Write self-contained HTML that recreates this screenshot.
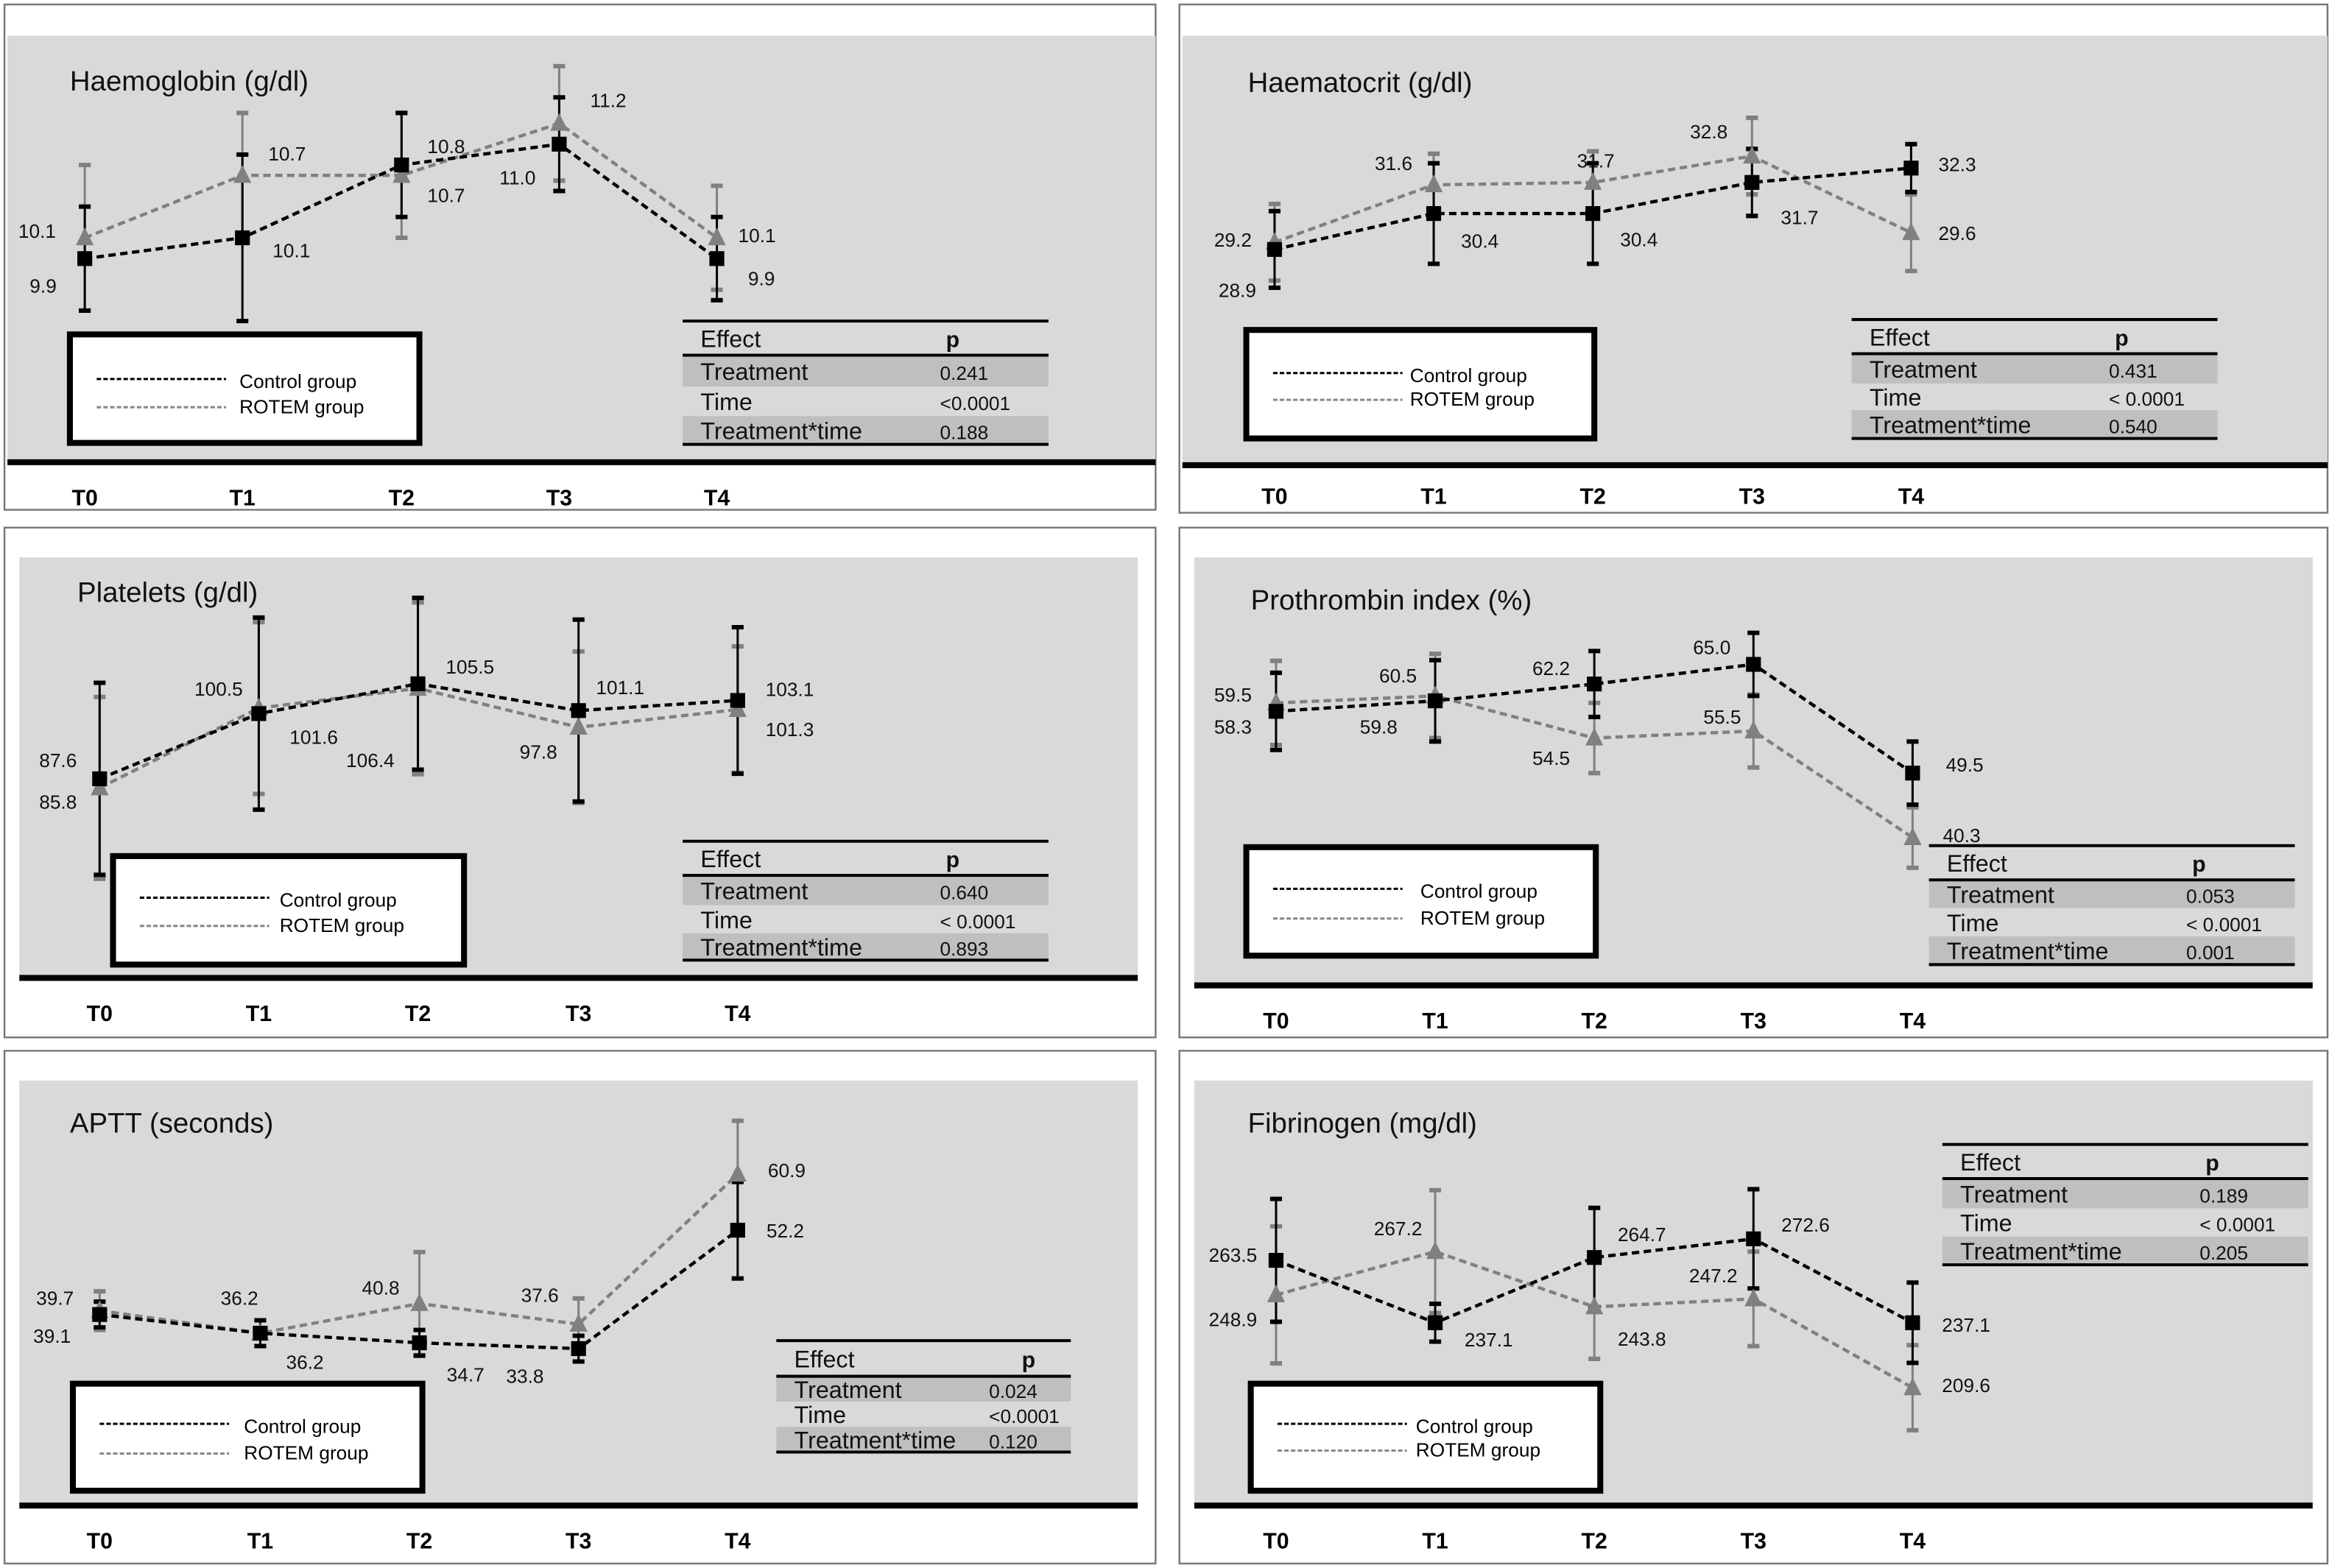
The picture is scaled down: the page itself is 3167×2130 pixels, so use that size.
<!DOCTYPE html>
<html><head><meta charset="utf-8">
<style>
html,body{margin:0;padding:0;background:#fff;}
svg{display:block;font-family:"Liberation Sans",Arial,sans-serif;}
</style></head>
<body>
<svg id="fig" xmlns="http://www.w3.org/2000/svg" width="3167" height="2130" viewBox="0 0 1568 1055" preserveAspectRatio="none"></svg>
<script>
const categories = ['T0','T1','T2','T3','T4'];

const hbControl = [9.9, 10.1, 10.8, 11.0, 9.9];
const hbRotem = [10.1, 10.7, 10.7, 11.2, 10.1];
const hbControlErr = [0.5, 0.8, 0.5, 0.45, 0.4];
const hbRotemErr = [0.7, 0.6, 0.6, 0.55, 0.5];
const hbP = ['0.241','<0.0001','0.188'];

const hctControl = [28.9, 30.4, 30.4, 31.7, 32.3];
const hctRotem = [29.2, 31.6, 31.7, 32.8, 29.6];
const hctControlErr = [1.6, 2.1, 2.1, 1.4, 1.0];
const hctRotemErr = [1.6, 1.3, 1.3, 1.6, 1.6];
const hctP = ['0.431','< 0.0001','0.540'];

const pltControl = [87.6, 100.5, 106.4, 101.1, 103.1];
const pltRotem = [85.8, 101.6, 105.5, 97.8, 101.3];
const pltControlErr = [19, 19, 17, 18, 14.5];
const pltRotemErr = [18, 17, 17, 15, 12.5];
const pltP = ['0.640','< 0.0001','0.893'];

const ptControl = [58.3, 59.8, 62.2, 65.0, 49.5];
const ptRotem = [59.5, 60.5, 54.5, 55.5, 40.3];
const ptControlErr = [5.5, 5.8, 4.7, 4.5, 4.5];
const ptRotemErr = [6, 6, 5, 5.2, 4.3];
const ptP = ['0.053','< 0.0001','0.001'];

const apttControl = [39.1, 36.2, 34.7, 33.8, 52.2];
const apttRotem = [39.7, 36.2, 40.8, 37.6, 60.9];
const apttControlErr = [2, 2, 2, 2, 7.5];
const apttRotemErr = [3, 2, 8, 4, 8.3];
const apttP = ['0.024','<0.0001','0.120'];

const fibControl = [263.5, 237.1, 264.7, 272.6, 237.1];
const fibRotem = [248.9, 267.2, 243.8, 247.2, 209.6];
const fibControlErr = [26, 8, 21, 21, 17];
const fibRotemErr = [29, 26, 22, 20, 18];
const fibP = ['0.189','< 0.0001','0.205'];

const effects = ['Treatment','Time','Treatment*time'];

const panels = [
 {name:'haemoglobin', title:'Haemoglobin (g/dl)', tx:47, ty:61, border:[3,3,774,340], gray:[5,24,772,288], axisY:311, tickY:340,
  xs:[57,163,270,376,482], ref:{v:10.1,y:160,k:70}, c:hbControl, r:hbRotem, ce:hbControlErr, re:hbRotemErr, p:hbP,
  cOff:[[-28,18],[33,8],[30,-13],[-28,22],[30,13]], rOff:[[-32,-5],[30,-15],[30,13],[33,-16],[27,-2]],
  leg:[47,225,235,73,65,161,255,274], tab:[459,216,246,632], rowH:[23,21,20,19]},
 {name:'haematocrit', title:'Haematocrit (g/dl)', tx:839, ty:62, border:[793,3,772,342], gray:[795,24,770,289], axisY:313, tickY:339,
  xs:[857,964,1071,1178,1285], ref:{v:29.2,y:163,k:16.1}, c:hctControl, r:hctRotem, ce:hctControlErr, re:hctRotemErr, p:hctP,
  cOff:[[-25,27],[31,18],[31,17],[32,23],[31,-3]], rOff:[[-28,-2],[-27,-15],[2,-15],[-29,-17],[31,0]],
  leg:[838,222,234,73,856,948,251,269], tab:[1245,215,246,1418], rowH:[23,20,18,19]},
 {name:'platelets', title:'Platelets (g/dl)', tx:52, ty:405, border:[3,355,774,343], gray:[13,375,752,283], axisY:658, tickY:687,
  xs:[67,174,281,389,496], ref:{v:87.6,y:524,k:3.4}, c:pltControl, r:pltRotem, ce:pltControlErr, re:pltRotemErr, p:pltP,
  cOff:[[-28,-13],[-27,-17],[-32,51],[28,-16],[35,-8]], rOff:[[-28,9],[37,19],[35,-15],[-27,16],[35,13]],
  leg:[76,576,236,73,94,188,604,623], tab:[459,566,246,632], rowH:[23,20,19,18]},
 {name:'prothrombin-index', title:'Prothrombin index (%)', tx:841, ty:410, border:[793,355,772,343], gray:[803,375,752,287], axisY:663, tickY:692,
  xs:[858,965,1072,1179,1286], ref:{v:65,y:447,k:4.72}, c:ptControl, r:ptRotem, ce:ptControlErr, re:ptRotemErr, p:ptP,
  cOff:[[-29,10],[-38,17],[-29,-11],[-28,-12],[35,-6]], rOff:[[-29,-6],[-25,-14],[-29,13],[-21,-10],[33,-2]],
  leg:[838,570,235,73,856,955,598,618], tab:[1297,569,246,1470], rowH:[23,19,19,19]},
 {name:'aptt', title:'APTT (seconds)', tx:47, ty:762, border:[3,707,774,345], gray:[13,727,752,285], axisY:1013, tickY:1042,
  xs:[67,175,282,389,496], ref:{v:36.2,y:897,k:4.33}, c:apttControl, r:apttRotem, ce:apttControlErr, re:apttRotemErr, p:apttP,
  cOff:[[-32,14],[30,19],[31,21],[-36,18],[32,0]], rOff:[[-30,-9],[-14,-24],[-26,-11],[-26,-20],[33,-3]],
  leg:[49,931,235,72,67,164,958,978], tab:[522,902,198,665], rowH:[24,17,17,17], pX:687},
 {name:'fibrinogen', title:'Fibrinogen (mg/dl)', tx:839, ty:762, border:[793,707,772,345], gray:[803,727,752,285], axisY:1013, tickY:1042,
  xs:[858,965,1072,1179,1286], ref:{v:263.5,y:848,k:1.59}, c:fibControl, r:fibRotem, ce:fibControlErr, re:fibRotemErr, p:fibP,
  cOff:[[-29,-4],[36,11],[32,-16],[35,-10],[36,1]], rOff:[[-29,16],[-25,-16],[32,21],[-27,-16],[36,-2]],
  leg:[841,931,235,72,859,952,958,976], tab:[1306,770,246,1479], rowH:[23,20,19,19]}
];

const NS='http://www.w3.org/2000/svg';
const svg=document.getElementById('fig');
function mk(tag, attrs, parent){const e=document.createElementNS(NS,tag);for(const k in attrs)e.setAttribute(k,attrs[k]);(parent||svg).appendChild(e);return e;}

panels.forEach(P=>{
  const g=mk('g',{});
  
  
  const b=mk('rect',{x:P.border[0],y:P.border[1],width:P.border[2],height:P.border[3],fill:'#fff',stroke:'#777','stroke-width':1.2},g);
  
  
  const bg=mk('rect',{x:P.gray[0],y:P.gray[1],width:P.gray[2],height:P.gray[3],fill:'#d9d9d9'},g);
  
  
  const ax=mk('line',{x1:P.gray[0],x2:P.gray[0]+P.gray[2],y1:P.axisY,y2:P.axisY,stroke:'#000','stroke-width':4},g);
  
  
  const t=mk('text',{x:P.tx,y:P.ty,'font-size':19,fill:'#111'},g);
  t.textContent=P.title;
  
  
  const y=v=>P.ref.y-P.ref.k*(v-P.ref.v);
  categories.forEach((c,i)=>{
    const tl=mk('text',{x:P.xs[i],y:P.tickY,'font-size':15,'font-weight':'bold','text-anchor':'middle',fill:'#000'},g);
    tl.textContent=c;
    
    
  });
  // legend
  const L=P.leg;
  const lb=mk('rect',{x:L[0],y:L[1],width:L[2],height:L[3],fill:'#fff',stroke:'#000','stroke-width':4},g);
  
  
  const l1=mk('line',{x1:L[4],x2:L[4]+87,y1:L[6],y2:L[6],stroke:'#000','stroke-width':1.5,'stroke-dasharray':'3,1.5'},g);
  
  
  const l2=mk('line',{x1:L[4],x2:L[4]+87,y1:L[7],y2:L[7],stroke:'#888','stroke-width':1.5,'stroke-dasharray':'3,1.5'},g);
  
  
  const lt1=mk('text',{x:L[5],y:L[6]+6,'font-size':13,fill:'#000'},g);lt1.textContent='Control group';
  
  
  const lt2=mk('text',{x:L[5],y:L[7]+4,'font-size':13,fill:'#000'},g);lt2.textContent='ROTEM group';
  
  
  // table
  const T=P.tab; let ry=T[1]; const valX=T[3];
  const rows=[['Effect','p']].concat(effects.map((e,i)=>[e,P.p[i]]));
  const tg=mk('g',{},g);
  
  
  rows.forEach((r,i)=>{
    const h=P.rowH[i];
    if(i===1||i===3) mk('rect',{x:T[0],y:ry,width:T[2],height:h,fill:'#bfbfbf'},tg);
    const e=mk('text',{x:T[0]+12,y:ry+h/2+6,'font-size':16,fill:'#111'},tg);e.textContent=r[0];
    const pv=mk('text',{x:i===0?(P.pX||valX+4):valX,y:ry+h/2+6,'font-size':i===0?15:13,'font-weight':i===0?'bold':'normal',fill:'#111'},tg);pv.textContent=r[1];
    ry+=h;
  });
  mk('line',{x1:T[0],x2:T[0]+T[2],y1:T[1],y2:T[1],stroke:'#000','stroke-width':2},tg);
  mk('line',{x1:T[0],x2:T[0]+T[2],y1:T[1]+P.rowH[0],y2:T[1]+P.rowH[0],stroke:'#000','stroke-width':2},tg);
  mk('line',{x1:T[0],x2:T[0]+T[2],y1:ry,y2:ry,stroke:'#000','stroke-width':2},tg);
  // series
  const series=[{vals:P.r,err:P.re,col:'#808080',off:P.rOff,key:'rotem'},{vals:P.c,err:P.ce,col:'#000',off:P.cOff,key:'control'}];
  series.forEach(s=>{
    s.vals.forEach((v,i)=>{
      const x=P.xs[i]+(s.key==='rotem'?0:0);
      const e=mk('g',{stroke:s.col,'stroke-width':1.5},g);
      
      
      mk('line',{x1:x,x2:x,y1:y(v+s.err[i]),y2:y(v-s.err[i])},e);
      mk('line',{x1:x-4,x2:x+4,y1:y(v+s.err[i]),y2:y(v+s.err[i]),'stroke-width':3},e);
      mk('line',{x1:x-4,x2:x+4,y1:y(v-s.err[i]),y2:y(v-s.err[i]),'stroke-width':3},e);
    });
  });
  series.forEach(s=>{
    const pts=s.vals.map((v,i)=>P.xs[i]+','+y(v)).join(' ');
    const pl=mk('polyline',{points:pts,fill:'none',stroke:s.col,'stroke-width':2.2,'stroke-dasharray':'5,3'},g);
    
    
  });
  series.forEach(s=>{
    s.vals.forEach((v,i)=>{
      const x=P.xs[i], yy=y(v);
      let m;
      if(s.key==='control') m=mk('rect',{x:x-5,y:yy-5,width:10,height:10,fill:'#000'},g);
      else m=mk('polygon',{points:(x)+','+(yy-7)+' '+(x-6)+','+(yy+5)+' '+(x+6)+','+(yy+5),fill:'#808080'},g);
      
      
      const lab=mk('text',{x:x+s.off[i][0],y:yy+s.off[i][1]+5,'font-size':13,'text-anchor':'middle',fill:'#111'},g);
      lab.textContent=v.toFixed(1);
      
      
    });
  });
});
</script>
</body></html>
